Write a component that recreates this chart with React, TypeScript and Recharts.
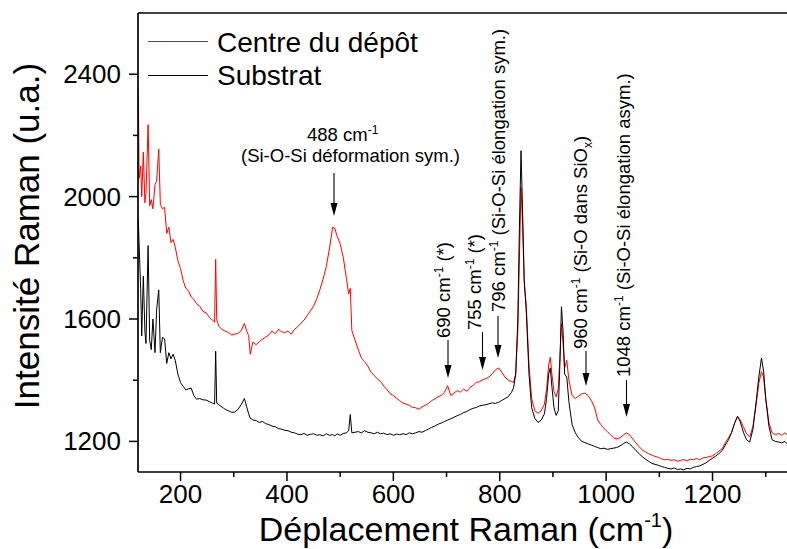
import React from 'react';
import { LineChart, Line, XAxis, YAxis, ReferenceLine } from 'recharts';

document.body.style.margin = '0';

const FONT = '"Liberation Sans", Arial, sans-serif';

// Raman shift (cm-1)
const shifts = [
  120, 121, 122, 125, 127, 130, 133, 135, 139, 142,
  145, 148, 152, 155, 159, 162, 166, 170, 174, 178,
  182, 186, 190, 195, 200, 205, 210, 215, 220, 225,
  230, 236, 242, 248, 254, 260, 264, 266, 268, 272,
  278, 284, 290, 296, 302, 308, 314, 320, 324, 328,
  331, 336, 342, 348, 354, 360, 366, 372, 378, 384,
  390, 396, 402, 408, 414, 420, 426, 432, 438, 444,
  450, 456, 462, 468, 474, 480, 486, 490, 494, 500,
  506, 512, 516, 519, 522, 528, 534, 540, 546, 552,
  558, 564, 570, 576, 582, 588, 594, 600, 606, 612,
  618, 624, 630, 636, 642, 648, 654, 660, 666, 672,
  678, 684, 690, 696, 702, 708, 714, 720, 726, 732,
  738, 744, 750, 756, 762, 768, 774, 780, 786, 792,
  798, 804, 810, 816, 822, 826, 830, 834, 837, 840,
  843, 846, 850, 855, 860, 866, 872, 878, 884, 888,
  892, 895, 898, 902, 906, 910, 913, 916, 919, 922,
  926, 930, 936, 942, 948, 954, 960, 966, 972, 978,
  984, 990, 996, 1002, 1008, 1014, 1020, 1026, 1032, 1038,
  1044, 1050, 1056, 1062, 1068, 1074, 1080, 1086, 1092, 1098,
  1104, 1110, 1116, 1122, 1128, 1134, 1140, 1146, 1152, 1158,
  1164, 1170, 1176, 1182, 1188, 1194, 1200, 1206, 1212, 1218,
  1224, 1230, 1236, 1242, 1247, 1252, 1258, 1264, 1270, 1276,
  1282, 1287, 1292, 1296, 1300, 1306, 1312, 1318, 1324, 1330,
  1336, 1340,
];

// Centre du dépôt
const centre = [
  2355, 2290, 2060, 2100, 2000, 2145, 1980, 2010, 2235, 1970,
  1990, 1960, 2040, 2050, 2155, 1975, 1960, 1965, 1880, 1900,
  1850, 1860, 1835, 1790, 1765, 1725, 1700, 1692, 1672, 1664,
  1650, 1642, 1625, 1620, 1606, 1596, 1590, 1795, 1598, 1576,
  1566, 1560, 1556, 1548, 1551, 1553, 1562, 1586, 1562, 1546,
  1485, 1525, 1516, 1526, 1534, 1541, 1548, 1561, 1552, 1566,
  1558, 1556, 1561, 1550, 1566, 1574, 1586, 1596, 1611, 1626,
  1642, 1666, 1696, 1731, 1772, 1832, 1900, 1896, 1872, 1846,
  1800, 1730, 1682, 1700, 1562, 1531, 1500, 1472, 1461, 1446,
  1426, 1416, 1404, 1396, 1381, 1369, 1356, 1350, 1341, 1333,
  1325, 1322, 1318, 1311, 1310, 1305, 1313, 1318, 1324, 1333,
  1339, 1346, 1350, 1360, 1382, 1350, 1358, 1366, 1361, 1371,
  1364, 1376, 1383, 1393, 1395, 1402, 1405, 1411, 1421, 1434,
  1440, 1426, 1410, 1400, 1396, 1393, 1420, 1560, 1800, 2030,
  1900, 1720, 1640, 1450, 1340, 1300, 1292, 1300, 1322, 1370,
  1450, 1475, 1420, 1362, 1346, 1372, 1470, 1585, 1520, 1440,
  1465, 1400, 1350, 1340, 1348, 1355, 1358, 1350, 1334, 1312,
  1270, 1255, 1242, 1232, 1222, 1212, 1208, 1212, 1220, 1228,
  1222, 1208, 1195, 1183, 1172, 1166, 1160, 1155, 1151, 1148,
  1143, 1140, 1142, 1138, 1140, 1135, 1138, 1141, 1136, 1142,
  1140, 1144, 1140, 1146, 1148, 1150, 1153, 1160, 1168, 1176,
  1196, 1212, 1230, 1262, 1280, 1270, 1248, 1225, 1215, 1250,
  1320, 1390, 1428, 1410, 1340, 1262, 1228, 1222, 1226, 1220,
  1228, 1222,
];

// Substrat
const substrat = [
  1930, 1900, 1850, 1700, 1545, 1740, 1560, 1520, 1840, 1530,
  1500, 1600, 1490, 1630, 1695, 1490, 1540, 1535, 1455, 1490,
  1470, 1485, 1465, 1420, 1392, 1380, 1368, 1372, 1374, 1350,
  1338, 1340, 1336, 1335, 1330, 1325, 1322, 1495, 1325, 1320,
  1312, 1305, 1300, 1295, 1296, 1305, 1320, 1340, 1315, 1290,
  1276, 1270, 1268, 1262, 1265, 1258, 1255, 1250, 1248, 1242,
  1240, 1236, 1235, 1230, 1228, 1224, 1222, 1226, 1220, 1223,
  1225, 1220, 1222, 1218, 1225, 1220, 1222, 1218, 1225, 1220,
  1226, 1228, 1235, 1288, 1228, 1230, 1232, 1228, 1235, 1230,
  1228, 1225, 1230, 1225, 1227, 1222, 1225, 1220, 1224, 1222,
  1225, 1222, 1228, 1225, 1228, 1232, 1230, 1235, 1240, 1246,
  1250, 1256, 1260, 1265, 1270, 1274, 1279, 1284, 1288, 1294,
  1298, 1304, 1308, 1311, 1316, 1318, 1320, 1323, 1326, 1324,
  1328, 1334, 1340, 1346, 1360, 1375, 1420, 1600, 1900, 2150,
  1950, 1730, 1620, 1420, 1310, 1275, 1262, 1270, 1290, 1340,
  1420, 1440, 1380, 1310, 1285, 1300, 1450, 1640, 1560, 1420,
  1410, 1330, 1255, 1228, 1212, 1200, 1196, 1192, 1188, 1184,
  1180, 1176, 1178, 1174, 1176, 1178, 1180, 1185, 1192, 1198,
  1192, 1182, 1170, 1160, 1150, 1142, 1135, 1128, 1125, 1122,
  1118, 1115, 1112, 1110, 1113, 1108, 1110, 1107, 1112, 1110,
  1115, 1118, 1120, 1125, 1130, 1138, 1145, 1152, 1160, 1170,
  1188, 1205, 1230, 1262, 1282, 1265, 1230, 1205, 1198, 1240,
  1330, 1410, 1472, 1430, 1340, 1250, 1205, 1200, 1198, 1195,
  1200, 1192,
];

const xTicks = [200, 300, 400, 500, 600, 700, 800, 900, 1000, 1100, 1200, 1300];
const xLabels = [200, 400, 600, 800, 1000, 1200];
const yTicks = [1200, 1400, 1600, 1800, 2000, 2200, 2400];
const yLabels = [1200, 1600, 2000, 2400];

const data = shifts.map((x, i) => ({ x, centre: centre[i], substrat: substrat[i] }));

const XTick = ({ x, y, payload }: any) => {
  const major = xLabels.includes(payload.value);
  return (
    <g>
      <line x1={x} x2={x} y1={y} y2={y + (major ? 9 : 5)} stroke="#000" strokeWidth={1.5} />
      {major && (
        <text x={x} y={y + 31} textAnchor="middle" fontSize={26} fontFamily={FONT} fill="#000">
          {payload.value}
        </text>
      )}
    </g>
  );
};

const YTick = ({ x, y, payload }: any) => {
  const major = yLabels.includes(payload.value);
  return (
    <g>
      <line x1={x} x2={x - (major ? 9 : 5)} y1={y} y2={y} stroke="#000" strokeWidth={1.5} />
      {major && (
        <text x={x - 17} y={y + 9} textAnchor="end" fontSize={26} fontFamily={FONT} fill="#000">
          {payload.value}
        </text>
      )}
    </g>
  );
};

const Arrow = ({ x, y1, y2 }: { x: number; y1: number; y2: number }) => (
  <g>
    <line x1={x} x2={x} y1={y1} y2={y2 - 10} stroke="#000" strokeWidth={1.1} />
    <polygon points={`${x - 3.5},${y2 - 13} ${x + 3.5},${y2 - 13} ${x},${y2}`} fill="#000" />
  </g>
);

const VLabel = ({ x, y, value, children }: any) => (
  <text transform={`translate(${x},${y}) rotate(-90)`} fontSize={18.5} fontFamily={FONT} fill="#000">
    {value} cm
    <tspan dy={-7} fontSize={12}>-1</tspan>
    <tspan dy={7}> {children}</tspan>
  </text>
);

export default function App() {
  return (
    <div style={{ position: 'relative', width: 787, height: 549, background: '#fff' }}>
      <LineChart
        width={787}
        height={549}
        data={data}
        margin={{ top: 13, right: 0, bottom: 47, left: 78 }}
      >
        <XAxis
          dataKey="x"
          type="number"
          domain={[120, 1340]}
          allowDataOverflow
          ticks={xTicks}
          interval={0}
          height={30}
          tickSize={0}
          tickMargin={0}
          tickLine={false}
          tick={<XTick />}
          axisLine={{ stroke: '#000', strokeWidth: 1.7 }}
        />
        <YAxis
          type="number"
          domain={[1100, 2600]}
          allowDataOverflow
          ticks={yTicks}
          interval={0}
          width={60}
          tickSize={0}
          tickMargin={0}
          tickLine={false}
          tick={<YTick />}
          axisLine={{ stroke: '#000', strokeWidth: 1.7 }}
        />
        <ReferenceLine y={2600} stroke="#000" strokeWidth={1.7} />
        <Line type="linear" dataKey="centre" stroke="#ff0000" strokeWidth={1} dot={false} isAnimationActive={false} />
        <Line type="linear" dataKey="substrat" stroke="#000000" strokeWidth={1} dot={false} isAnimationActive={false} />
      </LineChart>

      <svg
        width={787}
        height={549}
        style={{ position: 'absolute', left: 0, top: 0, pointerEvents: 'none' }}
      >
        {/* legend */}
        <line x1={148} x2={208} y1={41.5} y2={41.5} stroke="#ff0000" strokeWidth={1.2} />
        <text x={217} y={52} fontSize={28} fontFamily={FONT} fill="#000">Centre du dépôt</text>
        <line x1={148} x2={208} y1={75.5} y2={75.5} stroke="#000" strokeWidth={1.2} />
        <text x={217} y={85} fontSize={28} fontFamily={FONT} fill="#000">Substrat</text>

        {/* axis titles */}
        <text
          transform="translate(39,236) rotate(-90)"
          textAnchor="middle"
          fontSize={35}
          fontFamily={FONT}
          fill="#000"
        >
          Intensité Raman (u.a.)
        </text>
        <text x={466} y={541} textAnchor="middle" fontSize={34} fontFamily={FONT} fill="#000">
          Déplacement Raman (cm
          <tspan dy={-14} fontSize={20}>-1</tspan>
          <tspan dy={14}>)</tspan>
        </text>

        {/* 488 band */}
        <text x={307} y={141} fontSize={18.5} fontFamily={FONT} fill="#000">
          488 cm<tspan dy={-7} fontSize={12}>-1</tspan>
        </text>
        <text x={241} y={162} fontSize={18.5} fontFamily={FONT} fill="#000">
          (Si-O-Si déformation sym.)
        </text>
        <Arrow x={334} y1={173} y2={216} />

        <VLabel x={450} y={338} value="690">(*)</VLabel>
        <Arrow x={448} y1={340} y2={378} />
        <VLabel x={481} y={330} value="755">(*)</VLabel>
        <Arrow x={482.5} y1={332} y2={370} />
        <VLabel x={505} y={312} value="796">(Si-O-Si élongation sym.)</VLabel>
        <Arrow x={498} y1={316} y2={358} />
        <VLabel x={587} y={349} value="960">
          (Si-O dans SiO<tspan dy={5} fontSize={12}>x</tspan><tspan dy={-5}>)</tspan>
        </VLabel>
        <Arrow x={586} y1={351} y2={386} />
        <VLabel x={630} y={377} value="1048">(Si-O-Si élongation asym.)</VLabel>
        <Arrow x={626.5} y1={380} y2={417} />
      </svg>
    </div>
  );
}
